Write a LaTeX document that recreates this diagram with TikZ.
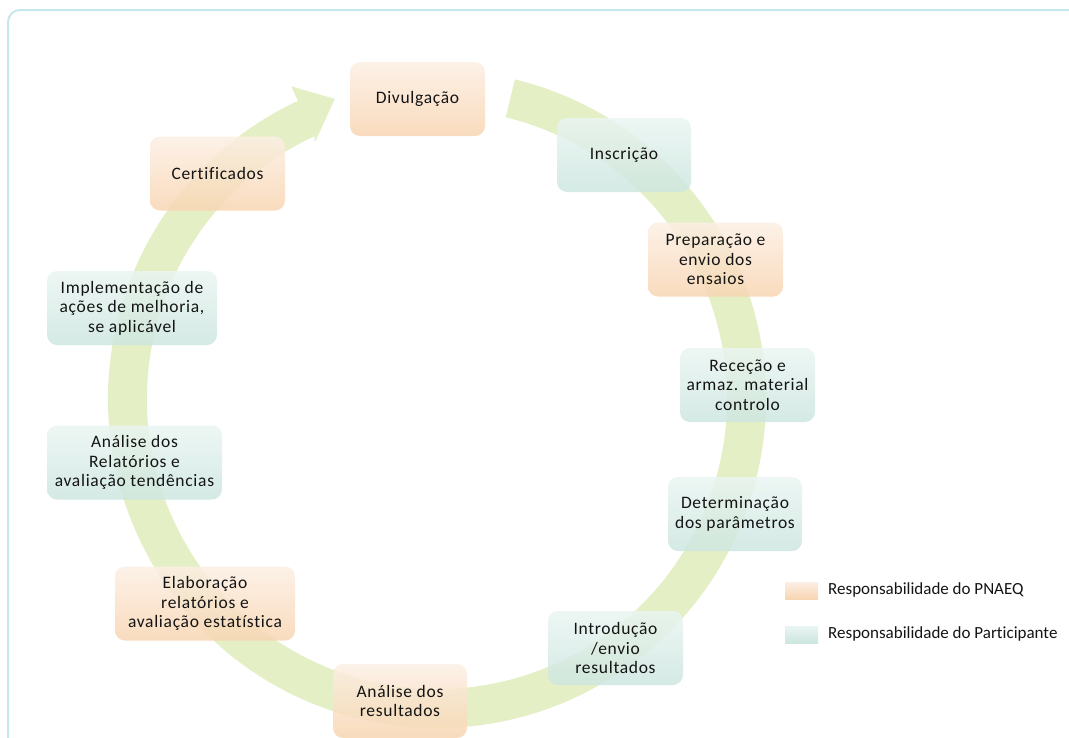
\documentclass[tikz,border=0pt]{standalone}
\usepackage{fontspec}
\usetikzlibrary{calc}
\newfontfamily\boxfont{Carlito}[LetterSpace=4,Ligatures={NoCommon}]
\newfontfamily\legfont{Carlito}[Ligatures={NoCommon}]
\definecolor{ringc}{RGB}{229,239,198}
\definecolor{frame}{RGB}{197,232,234}
\definecolor{otop}{RGB}{252,239,228}
\definecolor{obot}{RGB}{248,213,178}
\definecolor{ttop}{RGB}{234,245,242}
\definecolor{tbot}{RGB}{205,230,224}
\definecolor{txt}{RGB}{20,20,20}
\tikzset{
  x=1pt,y=1pt,
  stagebox/.style={rounded corners=10pt, minimum height=74pt, align=center,
    font=\boxfont\fontsize{17.5}{19.5}\selectfont, text=txt, fill opacity=0.85, text opacity=1, inner sep=2pt},
  orangebox/.style={stagebox, top color=otop, bottom color=obot},
  tealbox/.style={stagebox, top color=ttop, bottom color=tbot},
  legtext/.style={anchor=west, font=\legfont\fontsize{17}{19}\selectfont, text=txt, inner sep=0pt},
}
\begin{document}
\begin{tikzpicture}
\useasboundingbox (0,0) rectangle (1069,-737);
% frame
\draw[frame, line width=2pt, rounded corners=12pt] (1085,-10) -- (8,-10) -- (8,-760);
% ring with arrow
\coordinate (C) at (437,-399);
\fill[ringc] ($(C)+(76.3:329)$) arc[start angle=76.3, end angle=-245, radius=329]
  -- ($(C)+(115:345)$) -- ($(C)+(108.8:317)$) -- ($(C)+(115.5:284)$)
  -- ($(C)+(115:290)$) arc[start angle=-245, end angle=76.3, radius=290] -- cycle;
% boxes
\node[orangebox, minimum width=135pt] (div) at (417.5,-99) {Divulgação};
\node[tealbox, minimum width=134pt] (ins) at (624,-155) {Inscrição};
\node[orangebox, minimum width=135pt] (prep) at (715.5,-259.5) {Preparação e\\envio dos\\ensaios};
\node[tealbox, minimum width=135pt] (rec) at (747.5,-385) {Receção e\\armaz. material\\controlo};
\node[tealbox, minimum width=134pt] (det) at (735,-514) {Determinação\\dos parâmetros};
\node[tealbox, minimum width=135pt] (intro) at (615.5,-648) {Introdução\\/envio\\resultados};
\node[orangebox, minimum width=134pt] (anres) at (400,-701) {Análise dos\\resultados};
\node[orangebox, minimum width=180pt] (elab) at (205,-603.5) {Elaboração\\relatórios e\\avaliação estatística};
\node[tealbox, minimum width=175pt] (anrel) at (134.5,-462.5) {Análise dos\\Relatórios e\\avaliação tendências};
\node[tealbox, minimum width=170pt] (impl) at (132,-308) {Implementação de\\ações de melhoria,\\se aplicável};
\node[orangebox, minimum width=135pt] (cert) at (217.5,-173.5) {Certificados};
% legend
\fill[top color=otop, bottom color=obot] (785,-582) rectangle (818,-599);
\node[legtext] (l1) at (828,-590) {Responsabilidade do PNAEQ};
\fill[top color=ttop, bottom color=tbot] (785,-626) rectangle (818,-643);
\node[legtext] (l2) at (828,-634) {Responsabilidade do Participante};
\end{tikzpicture}
\end{document}
